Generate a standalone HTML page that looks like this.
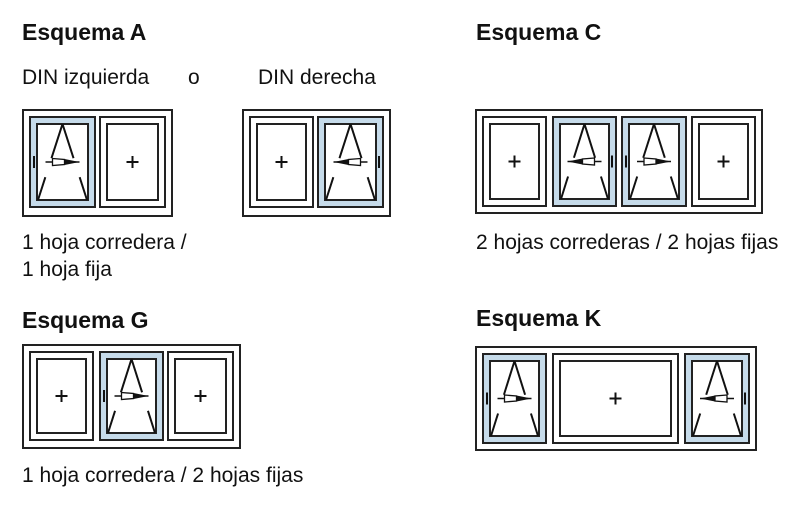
<!DOCTYPE html>
<html><head><meta charset="utf-8">
<style>
body{margin:0;width:800px;height:512px;background:#fff;position:relative;overflow:hidden;font-family:"Liberation Sans",Arial,sans-serif;color:#111}
.t{position:absolute;font-size:23px;font-weight:bold;line-height:26px}
.l{position:absolute;font-size:21px;line-height:24px}
svg{position:absolute;left:0;top:0}
</style></head><body>
<div class="t" style="left:22px;top:19px">Esquema A</div>
<div class="t" style="left:476px;top:19px">Esquema C</div>
<div class="t" style="left:22px;top:307px">Esquema G</div>
<div class="t" style="left:476px;top:305px">Esquema K</div>
<div class="l" style="left:22px;top:66px">DIN izquierda</div>
<div class="l" style="left:188px;top:66px">o</div>
<div class="l" style="left:258px;top:66px">DIN derecha</div>
<div class="l" style="left:22px;top:231px">1 hoja corredera /</div>
<div class="l" style="left:22px;top:258px">1 hoja fija</div>
<div class="l" style="left:476px;top:231px">2 hojas correderas / 2 hojas fijas</div>
<div class="l" style="left:22px;top:464px">1 hoja corredera / 2 hojas fijas</div>
<svg id="s" width="800" height="512" xmlns="http://www.w3.org/2000/svg"></svg>
<script>
var o='';
function frame(x,y,w,h){o+='<rect x="'+x+'" y="'+y+'" width="'+w+'" height="'+h+'" fill="#fff" stroke="#222" stroke-width="2"/>';}
function pane(x,y,w,h,type,dir){
 o+='<rect x="'+x+'" y="'+y+'" width="'+w+'" height="'+h+'" fill="'+(type=='s'?'#c6dbea':'#fff')+'" stroke="#222" stroke-width="2"/>';
 var ix=x+7,iy=y+7,iw=w-14,ih=h-14;
 o+='<rect x="'+ix+'" y="'+iy+'" width="'+iw+'" height="'+ih+'" fill="#fff" stroke="#222" stroke-width="2"/>';
 var cx=ix+iw/2,cy=iy+ih/2;
 if(type=='f'){
  o+='<path d="M'+(cx-6)+' '+cy+'h12M'+cx+' '+(cy-6)+'v12" stroke="#111" stroke-width="2"/>';
 } else {
  var bx=ix,by=iy+ih,rx=ix+iw;
  function seg(x1,y1,x2,y2,t1,t2){o+='<line x1="'+(x1+(x2-x1)*t1)+'" y1="'+(y1+(y2-y1)*t1)+'" x2="'+(x1+(x2-x1)*t2)+'" y2="'+(y1+(y2-y1)*t2)+'" stroke="#111" stroke-width="2"/>';}
  seg(cx,iy,bx+1,by,0,0.45);seg(cx,iy,bx+1,by,0.7,1);
  seg(cx,iy,rx-1,by,0,0.45);seg(cx,iy,rx-1,by,0.7,1);
  var a0=cx-dir*17,a1=cx+dir*17;
  o+='<line x1="'+a0+'" y1="'+cy+'" x2="'+a1+'" y2="'+cy+'" stroke="#111" stroke-width="1.5"/>';
  o+='<path d="M'+(cx-dir*10)+' '+(cy-3.5)+'L'+(cx+dir*2)+' '+(cy-2.5)+'L'+(cx+dir*2)+' '+(cy+2.5)+'L'+(cx-dir*10)+' '+(cy+3.5)+'Z" fill="#fff" stroke="#111" stroke-width="1.3"/>';
  o+='<path d="M'+(cx+dir*2)+' '+(cy-3)+'L'+a1+' '+cy+'L'+(cx+dir*2)+' '+(cy+3)+'Z" fill="#111"/>';
  var hx=dir==1?x+4:x+w-4;
  o+='<line x1="'+hx+'" y1="'+(cy-6)+'" x2="'+hx+'" y2="'+(cy+6)+'" stroke="#111" stroke-width="2"/>';
 }
}
frame(23,110,149,106);pane(30,117,65,90,'s',1);pane(100,117,65,90,'f');
frame(243,110,147,106);pane(250,117,63,90,'f');pane(318,117,65,90,'s',-1);
frame(476,110,286,103);pane(483,117,63,89,'f');pane(553,117,63,89,'s',-1);pane(622,117,64,89,'s',1);pane(692,117,63,89,'f');
frame(23,345,217,103);pane(30,352,63,88,'f');pane(100,352,63,88,'s',1);pane(168,352,65,88,'f');
frame(476,347,280,103);pane(483,354,63,89,'s',1);pane(553,354,125,89,'f');pane(685,354,64,89,'s',-1);
document.getElementById('s').innerHTML=o;
</script>
</body></html>
